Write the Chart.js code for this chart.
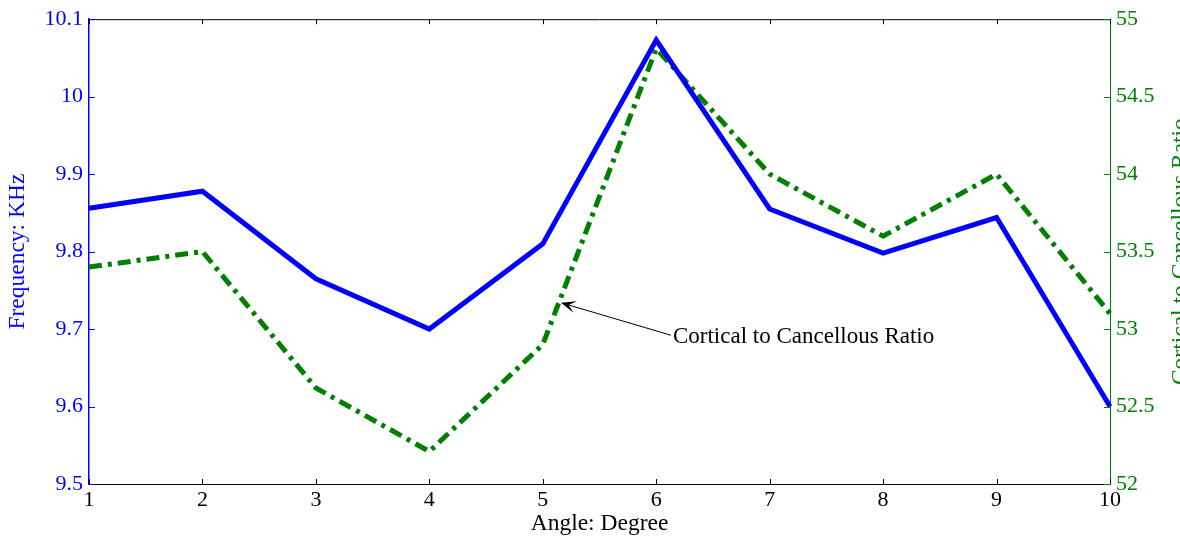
<!DOCTYPE html>
<html>
<head>
<meta charset="utf-8">
<script src="https://cdn.jsdelivr.net/npm/chart.js@4/dist/chart.umd.min.js"></script>
<style>
  html, body { margin: 0; padding: 0; background: #fff; }
  #wrap { width: 1180px; height: 541px; }
</style>
</head>
<body>
<div id="wrap"><canvas id="chart"></canvas></div>
<script>
var angles = [1, 2, 3, 4, 5, 6, 7, 8, 9, 10];
var frequency = [9.856, 9.878, 9.765, 9.70, 9.81, 10.073, 9.855, 9.798, 9.844, 9.60];
var ratio = [53.4, 53.5, 52.62, 52.21, 52.9, 54.81, 54.0, 53.6, 54.0, 53.1];

var BLUE = '#0000ff';
var GREEN = '#008000';
var SERIF = '"Liberation Serif", "Times New Roman", serif';

// inward tick marks, top border, right title and the arrow note
var extras = {
  id: 'extras',
  afterDraw: function(chart) {
    var ctx = chart.ctx;
    var a = chart.chartArea;
    var x = chart.scales.x, y = chart.scales.y, y1 = chart.scales.y1;
    ctx.save();
    ctx.lineWidth = 1;

    ctx.strokeStyle = '#000';
    ctx.beginPath();
    ctx.moveTo(a.left, a.top + 0.5);
    ctx.lineTo(a.right, a.top + 0.5);
    x.ticks.forEach(function(t, i) {
      var px = Math.round(x.getPixelForTick(i)) + 0.5;
      ctx.moveTo(px, a.bottom);
      ctx.lineTo(px, a.bottom - 5);
      ctx.moveTo(px, a.top);
      ctx.lineTo(px, a.top + 5);
    });
    ctx.stroke();

    ctx.strokeStyle = BLUE;
    ctx.beginPath();
    y.ticks.forEach(function(t, i) {
      var py = Math.round(y.getPixelForTick(i)) + 0.5;
      ctx.moveTo(a.left, py);
      ctx.lineTo(a.left + 6, py);
    });
    ctx.stroke();

    ctx.strokeStyle = GREEN;
    ctx.beginPath();
    y1.ticks.forEach(function(t, i) {
      var py = Math.round(y1.getPixelForTick(i)) + 0.5;
      ctx.moveTo(a.right, py);
      ctx.lineTo(a.right - 6, py);
    });
    ctx.stroke();

    // right axis title, reading upward and clipped by the canvas edge
    ctx.save();
    ctx.translate(1187, (a.top + a.bottom) / 2);
    ctx.rotate(-Math.PI / 2);
    ctx.fillStyle = GREEN;
    ctx.font = '23.5px ' + SERIF;
    ctx.textAlign = 'center';
    ctx.textBaseline = 'alphabetic';
    ctx.fillText('Cortical to Cancellous Ratio', 0, 0);
    ctx.restore();

    // annotation arrow
    var hx = x.getPixelForValue(4.16), hy = y1.getPixelForValue(53.17);
    var tx = x.getPixelForValue(5.13), ty = y1.getPixelForValue(52.96);
    var ang = Math.atan2(ty - hy, tx - hx);
    var c = Math.cos(ang), s = Math.sin(ang);
    ctx.strokeStyle = '#000';
    ctx.lineWidth = 1;
    ctx.beginPath();
    ctx.moveTo(tx, ty);
    ctx.lineTo(hx + 8 * c, hy + 8 * s);
    ctx.stroke();
    ctx.fillStyle = '#000';
    ctx.beginPath();
    ctx.moveTo(hx, hy);
    ctx.lineTo(hx + 15 * c - 6 * s, hy + 15 * s + 6 * c);
    ctx.lineTo(hx + 8 * c, hy + 8 * s);
    ctx.lineTo(hx + 15 * c + 6 * s, hy + 15 * s - 6 * c);
    ctx.closePath();
    ctx.fill();
    ctx.font = '23px ' + SERIF;
    ctx.textAlign = 'left';
    ctx.textBaseline = 'middle';
    ctx.fillText('Cortical to Cancellous Ratio', tx + 2, ty + 2);

    ctx.restore();
  }
};

new Chart(document.getElementById('chart'), {
  type: 'line',
  data: {
    labels: angles,
    datasets: [{
      label: 'Frequency',
      data: frequency,
      yAxisID: 'y',
      borderColor: BLUE,
      borderWidth: 5,
      pointRadius: 0,
      tension: 0,
      fill: false
    }, {
      label: 'Cortical to Cancellous Ratio',
      data: ratio,
      yAxisID: 'y1',
      borderColor: GREEN,
      borderWidth: 5,
      borderDash: [13, 6, 4, 6],
      pointRadius: 0,
      tension: 0,
      fill: false
    }]
  },
  options: {
    responsive: true,
    maintainAspectRatio: false,
    animation: false,
    layout: { padding: { top: 17, left: 0, right: 0, bottom: 0 } },
    plugins: {
      legend: { display: false },
      tooltip: { enabled: false }
    },
    scales: {
      x: {
        offset: false,
        grid: { display: false, drawTicks: false },
        border: { color: '#000', width: 1 },
        ticks: { color: '#000', padding: 3, maxRotation: 0, font: { family: SERIF, size: 22 } },
        title: { display: true, text: 'Angle: Degree', color: '#000', padding: { top: 0, bottom: 3 }, font: { family: SERIF, size: 23.5 } },
        afterFit: function(s) { s.height = 57; }
      },
      y: {
        position: 'left',
        min: 9.5,
        max: 10.1,
        grid: { display: false, drawTicks: false },
        border: { color: BLUE, width: 1.5 },
        ticks: { stepSize: 0.1, color: BLUE, padding: 6, font: { family: SERIF, size: 22 },
          callback: function(v) { return Math.round(v * 10) / 10; } },
        title: { display: true, text: 'Frequency: KHz', color: BLUE, padding: { top: 4, bottom: 0 }, font: { family: SERIF, size: 23.5 } },
        afterFit: function(s) { s.width = 89; }
      },
      y1: {
        position: 'right',
        min: 52,
        max: 55,
        grid: { display: false, drawTicks: false },
        border: { color: GREEN, width: 1 },
        ticks: { stepSize: 0.5, color: GREEN, padding: 6, font: { family: SERIF, size: 22 },
          callback: function(v) { return Math.round(v * 10) / 10; } },
        afterFit: function(s) { s.width = 70; }
      }
    }
  },
  plugins: [extras]
});
</script>
</body>
</html>
